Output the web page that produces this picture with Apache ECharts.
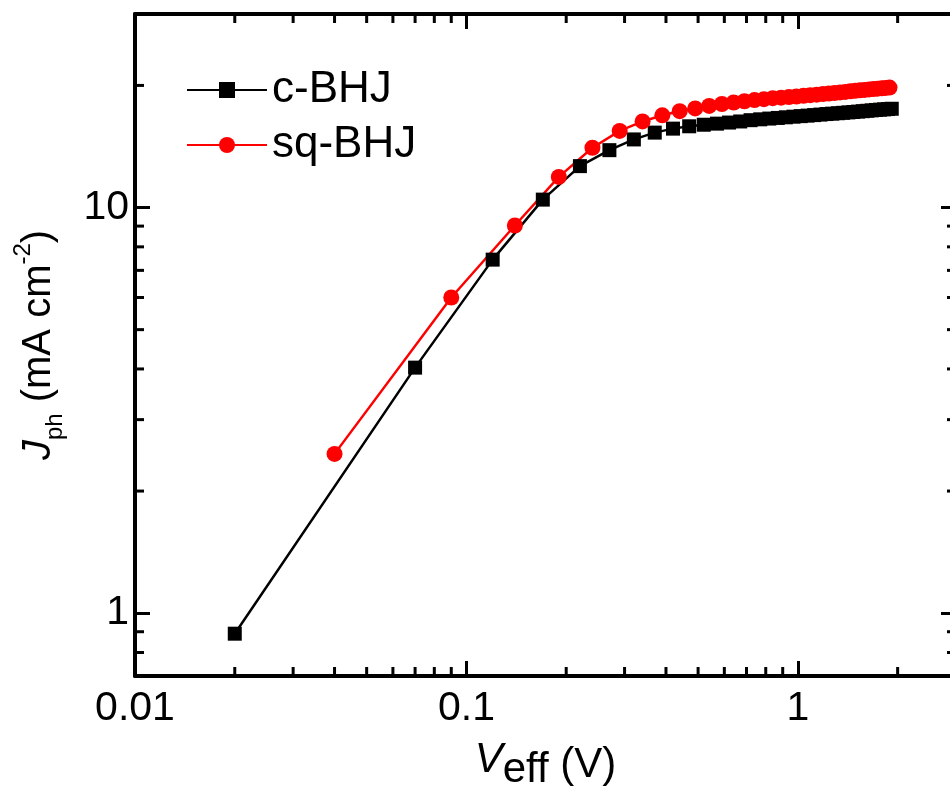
<!DOCTYPE html>
<html>
<head>
<meta charset="utf-8">
<script src="https://cdn.jsdelivr.net/npm/echarts@6/dist/echarts.min.js"></script>
<style>
  html, body { margin: 0; padding: 0; background: #fff; }
  #chart { width: 950px; height: 789px; }
</style>
</head>
<body>
<div id="chart"></div>
<script>
// effective voltage (V) and photocurrent (mA cm^-2)
const vC = [0.02, 0.07, 0.12, 0.17, 0.22, 0.27, 0.32, 0.37, 0.42, 0.47, 0.52, 0.57, 0.62, 0.67,
    0.72, 0.77, 0.82, 0.87, 0.92, 0.97, 1.02, 1.07, 1.12, 1.17, 1.22, 1.27, 1.32, 1.37,
    1.42, 1.47, 1.52, 1.57, 1.62, 1.67, 1.72, 1.77, 1.82, 1.87, 1.92];
const jC = [0.89, 4.03, 7.44, 10.46, 12.65, 13.85, 14.72, 15.3, 15.65, 15.86, 16.0, 16.1, 16.2, 16.3,
    16.42, 16.5, 16.57, 16.63, 16.69, 16.75, 16.8, 16.85, 16.9, 16.95, 17.0, 17.04, 17.08, 17.12,
    17.16, 17.2, 17.24, 17.28, 17.32, 17.36, 17.4, 17.43, 17.46, 17.49, 17.52];
const vSq = [0.04, 0.09, 0.14, 0.19, 0.24, 0.29, 0.34, 0.39, 0.44, 0.49, 0.54, 0.59, 0.64, 0.69,
    0.74, 0.79, 0.84, 0.89, 0.94, 0.99, 1.04, 1.09, 1.14, 1.19, 1.24, 1.29, 1.34, 1.39,
    1.44, 1.49, 1.54, 1.59, 1.64, 1.69, 1.74, 1.79, 1.84, 1.89];
const jSq = [2.47, 6.0, 9.03, 11.9, 14.04, 15.45, 16.3, 16.88, 17.28, 17.55, 17.8, 18.0, 18.15, 18.28,
    18.4, 18.5, 18.6, 18.66, 18.72, 18.78, 18.85, 18.92, 18.98, 19.04, 19.1, 19.16, 19.22, 19.28,
    19.34, 19.4, 19.45, 19.5, 19.55, 19.6, 19.64, 19.68, 19.72, 19.76];

// axis ranges and minor tick positions
const xMin = 0.01, xMax = 3;
const yMin = 0.7, yMax = 30;
const xMinor = [0.02, 0.03, 0.04, 0.05, 0.06, 0.07, 0.08, 0.09,
    0.2, 0.3, 0.4, 0.5, 0.6, 0.7, 0.8, 0.9, 2];
const yMinor = [0.8, 0.9, 2, 3, 4, 5, 6, 7, 8, 9, 20];

const FONT = '"Liberation Sans", Arial, sans-serif';
const TICK = {color: '#000', width: 3};

function decadeLabel(v) {
    const l = Math.log10(v);
    if (Math.abs(l - Math.round(l)) > 1e-6) return '';
    return String(+Math.pow(10, Math.round(l)).toPrecision(3));
}

function baseAxis(type) {
    return {
        type: 'log',
        logBase: 10,
        min: type === 'x' ? xMin : yMin,
        max: type === 'x' ? xMax : yMax,
        splitLine: {show: false},
        axisLine: {show: true, onZero: false, lineStyle: {color: '#000', width: 4}},
        axisTick: {show: true, inside: true, length: 15, lineStyle: TICK},
        axisLabel: {show: false}
    };
}

function minorTick(x1, y1, x2, y2) {
    return {type: 'line', shape: {x1, y1, x2, y2}, style: {stroke: '#000', lineWidth: 3}};
}

const chart = echarts.init(document.getElementById('chart'));

chart.setOption({
    backgroundColor: '#fff',
    animation: false,
    grid: {left: 135, top: 14, width: 821, height: 662, outerBoundsMode: 'none', containLabel: false},
    legend: {
        left: 181,
        top: 62,
        orient: 'vertical',
        itemWidth: 80,
        itemHeight: 20,
        itemGap: 9,
        data: ['c-BHJ', 'sq-BHJ'],
        textStyle: {fontFamily: FONT, fontSize: 44, color: '#000', lineHeight: 46}
    },
    xAxis: [
        Object.assign(baseAxis('x'), {
            position: 'bottom',
            axisLabel: {show: true, margin: 12, fontFamily: FONT, fontSize: 41, color: '#000', formatter: decadeLabel},
            name: '{i|V}{s|eff}{n| (V)}',
            nameLocation: 'middle',
            nameGap: 63,
            nameTextStyle: {
                fontFamily: FONT, color: '#000', lineHeight: 52,
                rich: {
                    i: {fontFamily: FONT, fontSize: 42, fontStyle: 'italic', verticalAlign: 'top'},
                    s: {fontFamily: FONT, fontSize: 42, verticalAlign: 'bottom'},
                    n: {fontFamily: FONT, fontSize: 42, lineHeight: 52, verticalAlign: 'middle'}
                }
            }
        }),
        Object.assign(baseAxis('x'), {position: 'top'})
    ],
    yAxis: [
        Object.assign(baseAxis('y'), {
            position: 'left',
            axisLabel: {show: true, margin: 6, fontFamily: FONT, fontSize: 41, color: '#000', formatter: decadeLabel},
            name: '{i|J}{s|ph}{n| (mA cm}{p|-2}{n|)}',
            nameLocation: 'middle',
            nameRotate: 90,
            nameGap: 68,
            nameTextStyle: {
                fontFamily: FONT, color: '#000', lineHeight: 56,
                rich: {
                    i: {fontFamily: FONT, fontSize: 40, fontStyle: 'italic', lineHeight: 56, verticalAlign: 'middle'},
                    s: {fontFamily: FONT, fontSize: 24, verticalAlign: 'bottom'},
                    n: {fontFamily: FONT, fontSize: 40, lineHeight: 56, verticalAlign: 'middle'},
                    p: {fontFamily: FONT, fontSize: 24, verticalAlign: 'top'}
                }
            }
        }),
        Object.assign(baseAxis('y'), {position: 'right'})
    ],
    series: [
        {
            name: 'c-BHJ',
            type: 'line',
            data: vC.map((v, i) => [v, jC[i]]),
            symbol: 'rect',
            symbolSize: 14,
            itemStyle: {color: '#000'},
            lineStyle: {color: '#000', width: 2.5}
        },
        {
            name: 'sq-BHJ',
            type: 'line',
            data: vSq.map((v, i) => [v, jSq[i]]),
            symbol: 'circle',
            symbolSize: 16,
            itemStyle: {color: '#f00'},
            lineStyle: {color: '#f00', width: 2.5}
        },
        {
            // minor ticks on the bottom and top axes
            type: 'custom',
            silent: true,
            clip: false,
            data: xMinor.map(v => [v, yMin]),
            renderItem: (params, api) => {
                const b = api.coord([api.value(0), yMin]);
                const t = api.coord([api.value(0), yMax]);
                return {
                    type: 'group',
                    children: [
                        minorTick(b[0], b[1], b[0], b[1] - 9),
                        minorTick(t[0], t[1], t[0], t[1] + 9)
                    ]
                };
            }
        },
        {
            // minor ticks on the left and right axes
            type: 'custom',
            silent: true,
            clip: false,
            data: yMinor.map(v => [xMin, v]),
            renderItem: (params, api) => {
                const l = api.coord([xMin, api.value(1)]);
                const r = api.coord([xMax, api.value(1)]);
                return {
                    type: 'group',
                    children: [
                        minorTick(l[0], l[1], l[0] + 9, l[1]),
                        minorTick(r[0], r[1], r[0] - 9, r[1])
                    ]
                };
            }
        }
    ]
});
</script>
</body>
</html>
